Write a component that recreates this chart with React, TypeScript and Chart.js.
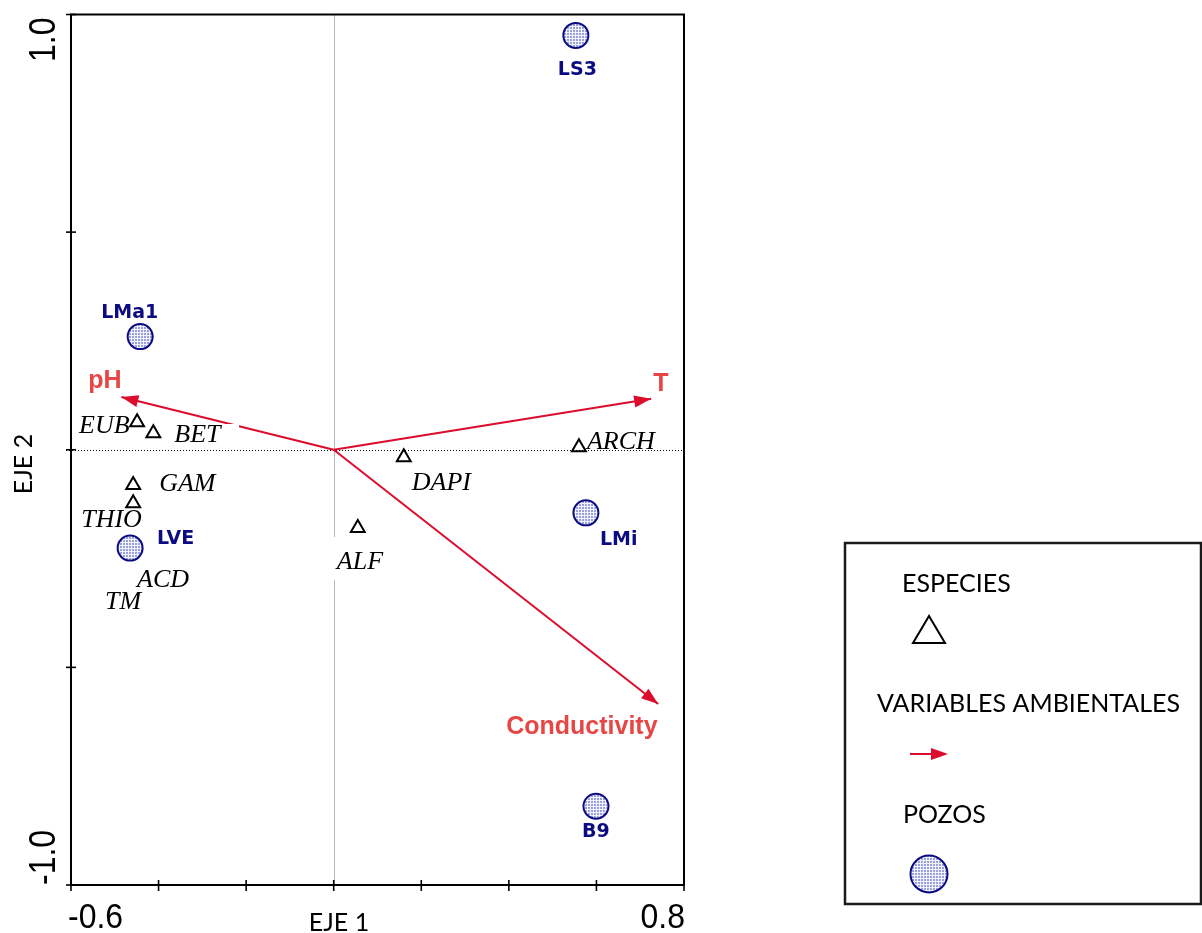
import React, { useEffect, useRef } from "react";
import { Chart, registerables } from "chart.js";

Chart.register(...registerables);

// ---------- data ----------
const siteNames = ["LS3", "LMa1", "LVE", "LMi", "B9"];
const siteX = [0.553, -0.442, -0.465, 0.576, 0.599];
const siteY = [0.952, 0.26, -0.226, -0.145, -0.819];

const speciesNames = ["EUB", "BET", "GAM", "THIO", "ACD", "TM", "ARCH", "DAPI", "ALF"];
const speciesX = [-0.449, -0.412, -0.458, -0.458, -0.465, -0.465, 0.56, 0.16, 0.055];
const speciesY = [0.063, 0.038, -0.081, -0.123, -0.226, -0.226, 0.006, -0.017, -0.18];

const envNames = ["pH", "T", "Conductivity"];
const envX = [-0.485, 0.725, 0.741];
const envY = [0.121, 0.117, -0.584];

const xTickValues = [-0.6, -0.4, -0.2, 0, 0.2, 0.4, 0.6, 0.8];
const yTickValues = [-1, -0.5, 0, 0.5, 1];
const xLabelValues = [-0.6, 0.8];
const xLabelTexts = ["-0.6", "0.8"];
const yLabelValues = [-1, 1];
const yLabelTexts = ["-1.0", "1.0"];

const xTitle = "EJE 1";
const yTitle = "EJE 2";
const legendTexts = ["ESPECIES", "VARIABLES AMBIENTALES", "POZOS"];

// ---------- layout / style (pixels) ----------
const speciesLabelOffset = [
  [-58, 11], [21, 9], [26, 6], [-52, 24], [7, 39], [-25, 61], [8, 2], [8, 33], [-21, 41],
];
const siteLabelOffset = [[-18, 40], [-39, -19], [27, -4], [14, 32], [-14, 31]];
const envLabelOffset = [[-33, -9], [2, -8], [-152, 30]];

const ARROW_COLOR = "#dc0c2c";
const ENV_TEXT = "#e84545";
const NAVY = "#0c0c82";

function makePattern(ctx: CanvasRenderingContext2D) {
  const c = document.createElement("canvas");
  c.width = 3;
  c.height = 3;
  const g = c.getContext("2d")!;
  g.fillStyle = "#9aa2dc";
  g.fillRect(0, 0, 3, 3);
  g.fillStyle = "#f2f3ff";
  g.fillRect(0, 2, 3, 1);
  g.fillRect(2, 0, 1, 3);
  return ctx.createPattern(c, "repeat")!;
}

export default function App() {
  const ref = useRef<HTMLCanvasElement | null>(null);

  useEffect(() => {
    const canvas = ref.current!;
    const ctx0 = canvas.getContext("2d")!;
    const pattern = makePattern(ctx0);

    const overlay = {
      id: "overlay",
      beforeDatasetsDraw(chart: any) {
        const ctx = chart.ctx as CanvasRenderingContext2D;
        const xs = chart.scales.x;
        const ys = chart.scales.y;
        const a = chart.chartArea;
        ctx.save();
        // zero lines
        ctx.lineWidth = 1;
        ctx.strokeStyle = "#707070";
        ctx.setLineDash([1, 1]);
        const x0 = Math.round(xs.getPixelForValue(0)) + 0.5;
        ctx.beginPath();
        ctx.moveTo(x0, a.top);
        ctx.lineTo(x0, a.bottom);
        ctx.stroke();
        ctx.strokeStyle = "#000";
        ctx.setLineDash([1, 2]);
        const y0 = Math.round(ys.getPixelForValue(0)) + 0.5;
        ctx.beginPath();
        ctx.moveTo(a.left - 5, y0);
        ctx.lineTo(a.right, y0);
        ctx.stroke();
        ctx.restore();
      },
      afterDatasetsDraw(chart: any) {
        const ctx = chart.ctx as CanvasRenderingContext2D;
        const xs = chart.scales.x;
        const ys = chart.scales.y;
        ctx.save();
        // white label boxes (as in the original figure)
        ctx.fillStyle = "#fff";
        ctx.fillRect(318, 537, 74, 43);
        ctx.fillRect(172, 424, 67, 22);

        // arrowheads
        const ox = xs.getPixelForValue(0);
        const oy = ys.getPixelForValue(0);
        for (let i = 0; i < envNames.length; i++) {
          const tx = xs.getPixelForValue(envX[i]);
          const ty = ys.getPixelForValue(envY[i]);
          const ang = Math.atan2(ty - oy, tx - ox);
          const L = 17;
          const W = 6;
          const bx = tx - L * Math.cos(ang);
          const by = ty - L * Math.sin(ang);
          ctx.fillStyle = ARROW_COLOR;
          ctx.beginPath();
          ctx.moveTo(tx, ty);
          ctx.lineTo(bx + W * Math.sin(ang), by - W * Math.cos(ang));
          ctx.lineTo(bx - W * Math.sin(ang), by + W * Math.cos(ang));
          ctx.closePath();
          ctx.fill();
        }

        // species labels
        ctx.textAlign = "left";
        ctx.textBaseline = "alphabetic";
        ctx.fillStyle = "#000";
        ctx.font = "italic 26px 'Liberation Serif'";
        for (let i = 0; i < speciesNames.length; i++) {
          const px = xs.getPixelForValue(speciesX[i]);
          const py = ys.getPixelForValue(speciesY[i]);
          ctx.fillText(speciesNames[i], px + speciesLabelOffset[i][0], py + speciesLabelOffset[i][1]);
        }
        // site labels
        ctx.fillStyle = NAVY;
        ctx.font = "bold 19px 'DejaVu Sans'";
        for (let i = 0; i < siteNames.length; i++) {
          const px = xs.getPixelForValue(siteX[i]);
          const py = ys.getPixelForValue(siteY[i]);
          ctx.fillText(siteNames[i], px + siteLabelOffset[i][0], py + siteLabelOffset[i][1]);
        }
        // env labels
        ctx.fillStyle = ENV_TEXT;
        ctx.font = "bold 25px 'Liberation Sans'";
        for (let i = 0; i < envNames.length; i++) {
          const px = xs.getPixelForValue(envX[i]);
          const py = ys.getPixelForValue(envY[i]);
          ctx.fillText(envNames[i], px + envLabelOffset[i][0], py + envLabelOffset[i][1]);
        }
        ctx.restore();
      },
      afterDraw(chart: any) {
        const ctx = chart.ctx as CanvasRenderingContext2D;
        const xs = chart.scales.x;
        const ys = chart.scales.y;
        const a = chart.chartArea;
        ctx.save();
        // frame
        ctx.strokeStyle = "#000";
        ctx.lineWidth = 2;
        ctx.strokeRect(a.left, a.top, a.right - a.left, a.bottom - a.top);
        // ticks
        ctx.lineWidth = 1.6;
        for (const v of xTickValues) {
          const px = xs.getPixelForValue(v);
          ctx.beginPath();
          ctx.moveTo(px, a.bottom - 5);
          ctx.lineTo(px, a.bottom + 6);
          ctx.stroke();
        }
        for (const v of yTickValues) {
          const py = ys.getPixelForValue(v);
          ctx.beginPath();
          ctx.moveTo(a.left - 5, py);
          ctx.lineTo(a.left + 5, py);
          ctx.stroke();
        }
        // tick labels
        ctx.fillStyle = "#000";
        ctx.font = "32px 'Liberation Sans'";
        ctx.textBaseline = "alphabetic";
        for (let i = 0; i < xLabelValues.length; i++) {
          const px = xs.getPixelForValue(xLabelValues[i]);
          ctx.save();
          ctx.translate(px, 928);
          ctx.scale(1, 1.12);
          ctx.textAlign = i === 0 ? "left" : "right";
          ctx.fillText(xLabelTexts[i], i === 0 ? -3 : 1, 0);
          ctx.restore();
        }
        for (let i = 0; i < yLabelValues.length; i++) {
          const py = ys.getPixelForValue(yLabelValues[i]);
          ctx.save();
          ctx.translate(55, py);
          ctx.rotate(-Math.PI / 2);
          ctx.scale(1, 1.18);
          ctx.textAlign = i === 0 ? "left" : "right";
          ctx.fillText(yLabelTexts[i], i === 0 ? 0 : -3, 0);
          ctx.restore();
        }
        // axis titles
        ctx.font = "25px Lato";
        ctx.textAlign = "center";
        ctx.fillText(xTitle, 339, 931);
        ctx.save();
        ctx.translate(32, 464);
        ctx.rotate(-Math.PI / 2);
        ctx.fillText(yTitle, 0, 0);
        ctx.restore();

        // legend box
        ctx.lineWidth = 2.5;
        ctx.strokeStyle = "#1a1a1a";
        ctx.strokeRect(845, 543, 356, 361);
        ctx.textAlign = "left";
        ctx.fillStyle = "#000";
        ctx.font = "25px Lato";
        ctx.fillText(legendTexts[0], 902, 592);
        ctx.fillText(legendTexts[1], 877, 712);
        ctx.fillText(legendTexts[2], 903, 823);
        // legend triangle
        ctx.lineWidth = 2;
        ctx.strokeStyle = "#000";
        ctx.beginPath();
        ctx.moveTo(929, 616);
        ctx.lineTo(913, 643);
        ctx.lineTo(945, 643);
        ctx.closePath();
        ctx.stroke();
        // legend arrow
        ctx.strokeStyle = ARROW_COLOR;
        ctx.fillStyle = ARROW_COLOR;
        ctx.lineWidth = 2;
        ctx.beginPath();
        ctx.moveTo(910, 754);
        ctx.lineTo(934, 754);
        ctx.stroke();
        ctx.beginPath();
        ctx.moveTo(948, 754);
        ctx.lineTo(931, 748);
        ctx.lineTo(931, 760);
        ctx.closePath();
        ctx.fill();
        // legend circle
        ctx.beginPath();
        ctx.arc(929, 874, 18.5, 0, Math.PI * 2);
        ctx.fillStyle = pattern;
        ctx.fill();
        ctx.lineWidth = 2;
        ctx.strokeStyle = NAVY;
        ctx.stroke();
        ctx.restore();
      },
    };

    const arrowDatasets = envNames.map((n, i) => ({
      type: "scatter" as const,
      label: n,
      data: [
        { x: 0, y: 0 },
        { x: envX[i], y: envY[i] },
      ],
      showLine: true,
      borderColor: ARROW_COLOR,
      backgroundColor: ARROW_COLOR,
      borderWidth: 2,
      pointRadius: 0,
      order: 2,
    }));

    const chart = new Chart(canvas, {
      type: "scatter",
      data: {
        datasets: [
          {
            label: "ESPECIES",
            data: speciesX.map((x, i) => ({ x, y: speciesY[i] })),
            pointStyle: "triangle",
            pointRadius: 8,
            borderColor: "#000",
            backgroundColor: "rgba(255,255,255,0)",
            borderWidth: 2,
            order: 3,
          },
          ...arrowDatasets,
          {
            label: "POZOS",
            data: siteX.map((x, i) => ({ x, y: siteY[i] })),
            pointStyle: "circle",
            pointRadius: 12.5,
            borderColor: NAVY,
            backgroundColor: pattern as any,
            borderWidth: 2,
            order: 1,
          },
        ] as any,
      },
      options: {
        responsive: false,
        animation: false,
        devicePixelRatio: 1,
        layout: { padding: { left: 71, top: 12, right: 518, bottom: 48 } },
        scales: {
          x: { type: "linear", min: -0.6, max: 0.8, display: false },
          y: { type: "linear", min: -1, max: 1, display: false },
        },
        plugins: {
          legend: { display: false },
          tooltip: { enabled: false },
        },
        events: [],
      },
      plugins: [overlay],
    });
    return () => chart.destroy();
  }, []);

  return (
    <div style={{ position: "absolute", left: 0, top: 0, width: 1202, height: 933, background: "#fff" }}>
      <canvas ref={ref} width={1202} height={933} style={{ display: "block" }} />
    </div>
  );
}
